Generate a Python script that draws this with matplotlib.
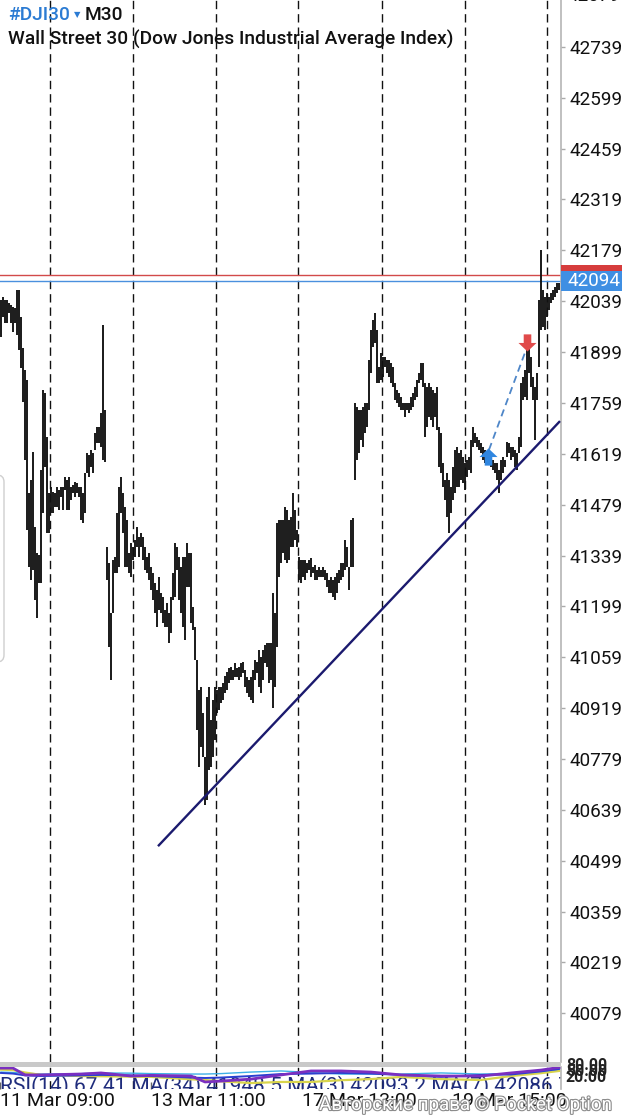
import matplotlib
matplotlib.use("Agg")
import matplotlib.pyplot as plt
from matplotlib.patches import Rectangle, FancyBboxPatch
from matplotlib.path import Path
from matplotlib.transforms import IdentityTransform
import matplotlib.patheffects as pe

plt.rcParams['font.family'] = ['Roboto', 'DejaVu Sans']

# ---------------- data (M30 bars, high / low) ----------------
bar_high = [
    42043, 42051, 42043, 42043, 42034, 42029, 42023, 42020, 42070, 42070,
    41996, 41910, 41850, 41822, 41511, 41547, 41624, 41418, 41346, 41341,
    41574, 41795, 41786, 41665, 41511, 41528, 41514, 41511, 41528, 41519,
    41528, 41528, 41555, 41547, 41555, 41528, 41533, 41541, 41539, 41528,
    41528, 41511, 41566, 41621, 41616, 41630, 41621, 41676, 41693, 41693,
    41731, 41974, 41740, 41363, 41318, 41181, 41327, 41335, 41456, 41528,
    41555, 41511, 41473, 41437, 41346, 41374, 41363, 41382, 41418, 41390,
    41401, 41390, 41363, 41335, 41346, 41307, 41291, 41263, 41244, 41280,
    41236, 41225, 41189, 41208, 41181, 41225, 41291, 41374, 41363, 41335,
    41307, 41335, 41335, 41374, 41346, 41346, 41197, 41142, 41051, 40969,
    40977, 40906, 40784, 40950, 40977, 40886, 40941, 40977, 40969, 40977,
    40977, 40988, 41007, 41018, 41029, 41032, 41024, 41043, 41029, 41032,
    41043, 41046, 41024, 41005, 40996, 41005, 41024, 41051, 41046, 41079,
    41060, 41079, 41093, 41098, 41098, 41098, 41236, 41181, 41429, 41437,
    41437, 41437, 41473, 41464, 41437, 41445, 41511, 41464, 41409, 41335,
    41327, 41327, 41327, 41318, 41327, 41332, 41307, 41313, 41299, 41307,
    41299, 41307, 41299, 41291, 41272, 41280, 41272, 41280, 41291, 41299,
    41318, 41318, 41382, 41363, 41307, 41437, 41442, 41759, 41748, 41740,
    41740, 41748, 41759, 41759, 41877, 41960, 41987, 42007, 41960, 41858,
    41897, 41886, 41886, 41877, 41877, 41869, 41858, 41814, 41795, 41786,
    41775, 41759, 41759, 41759, 41759, 41775, 41786, 41803, 41822, 41842,
    41869, 41869, 41814, 41803, 41814, 41803, 41795, 41786, 41803, 41693,
    41676, 41594, 41547, 41566, 41547, 41528, 41583, 41630, 41638, 41621,
    41630, 41610, 41594, 41602, 41610, 41657, 41693, 41676, 41665, 41657,
    41649, 41638, 41630, 41621, 41616, 41610, 41602, 41594, 41594, 41574,
    41602, 41610, 41602, 41652, 41649, 41638, 41638, 41630, 41621, 41665,
    41814, 41831, 41850, 41905, 41913, 41886, 41831, 41803, 41842, 42043,
    42180, 42070, 42051, 42062, 42051, 42062, 42070, 42078, 42089, 42089,
]
bar_low = [
    41941, 41996, 41979, 41979, 42007, 41979, 41954, 41979, 41946, 41905,
    41855, 41761, 41602, 41409, 41307, 41272, 41299, 41217, 41167, 41263,
    41263, 41456, 41583, 41401, 41401, 41456, 41456, 41473, 41473, 41464,
    41500, 41464, 41519, 41464, 41464, 41492, 41511, 41500, 41511, 41500,
    41437, 41429, 41456, 41566, 41555, 41583, 41566, 41630, 41649, 41649,
    41638, 41602, 41597, 41272, 41087, 40996, 41181, 41291, 41291, 41307,
    41456, 41401, 41307, 41307, 41291, 41280, 41327, 41335, 41363, 41335,
    41363, 41327, 41299, 41291, 41272, 41244, 41217, 41181, 41142, 41189,
    41181, 41153, 41142, 41142, 41098, 41126, 41217, 41225, 41299, 41217,
    41181, 41142, 41107, 41252, 41252, 41153, 41134, 41051, 40859, 40757,
    40812, 40784, 40652, 40666, 40749, 40757, 40784, 40831, 40906, 40914,
    40933, 40941, 40961, 40969, 40988, 40996, 40996, 41005, 41005, 40996,
    41005, 41016, 40977, 40961, 40950, 40941, 40933, 40996, 41016, 40977,
    40961, 40996, 41043, 41032, 40988, 40996, 40919, 40977, 41087, 41280,
    41318, 41346, 41327, 41318, 41327, 41363, 41363, 41382, 41363, 41272,
    41263, 41280, 41272, 41291, 41299, 41280, 41291, 41272, 41272, 41280,
    41280, 41280, 41272, 41252, 41236, 41236, 41225, 41217, 41236, 41263,
    41272, 41280, 41299, 41307, 41244, 41307, 41307, 41547, 41602, 41621,
    41657, 41638, 41676, 41693, 41740, 41842, 41913, 41924, 41814, 41814,
    41822, 41831, 41858, 41842, 41831, 41814, 41803, 41767, 41759, 41748,
    41740, 41740, 41720, 41740, 41731, 41740, 41748, 41767, 41775, 41814,
    41822, 41803, 41665, 41693, 41720, 41712, 41693, 41720, 41685, 41583,
    41566, 41528, 41492, 41445, 41401, 41456, 41492, 41511, 41528, 41528,
    41547, 41539, 41519, 41555, 41574, 41566, 41638, 41649, 41638, 41630,
    41621, 41602, 41594, 41602, 41588, 41583, 41574, 41566, 41547, 41511,
    41547, 41566, 41583, 41610, 41621, 41602, 41610, 41583, 41574, 41621,
    41638, 41767, 41775, 41767, 41842, 41803, 41767, 41657, 41767, 41858,
    41960, 41968, 41960, 41996, 42015, 42034, 42043, 42051, 42062, 42070,
]
bar_index = list(range(len(bar_high)))

price_ticks = [40079, 40219, 40359, 40499, 40639, 40779, 40919, 41059, 41199,
               41339, 41479, 41619, 41759, 41899, 42039, 42179, 42319, 42459,
               42599, 42739]
top_partial_tick = 42879
bid_price = 42094
ask_price = 42110
day_separators = [24.5, 66.2, 107.5, 148.7, 190.4, 232.0, 272.9]
trend_x = [78.5, 279.5]
trend_y = [40539, 41709]
signal_up = (243.5, 41610)
signal_down = (263.0, 41927)

date_positions = [-0.5, 75.0, 150.5, 225.5]
date_labels = ['11 Mar 09:00', '13 Mar 11:00', '17 Mar 13:00', '19 Mar 15:00']

rsi_x = [0, 6, 12, 20, 40, 50, 65, 75, 95, 102, 110, 125, 140, 155, 170,
         185, 200, 220, 240, 255, 270, 279]
rsi_purple = [95, 95, 64, 64, 68, 73, 59, 62, 59, 32, 36, 45, 64, 82, 82,
              77, 64, 59, 59, 73, 86, 98]
rsi_yellow = [88, 86, 75, 64, 59, 58, 56, 55, 44, 41, 35, 27, 32, 32, 40,
              45, 55, 45, 41, 59, 72, 82]
rsi_blue = [73, 70, 62, 59, 62, 64, 62, 59, 52, 50, 52, 59, 68, 70, 73,
            70, 64, 55, 64, 66, 80, 91]
rsi_cyan = [77, 75, 72, 68, 70, 73, 72, 70, 68, 68, 70, 77, 82, 75, 68,
            68, 68, 73, 68, 70, 78, 86]
rsi_text = 'RSI(14) 67.41 MA(34) 41948.5 MA(3) 42093.2 MA(7) 42086.7'
rsi_levels = ['80.00', '50.00', '20.00']

# ---------------- figure ----------------
W, H = 622, 1117
fig = plt.figure(figsize=(W / 100, H / 100), dpi=100)
fig.patch.set_facecolor('white')

def fx(px):
    return px / W

def fy(py):
    return 1 - py / H

plot_right = 561
ax = fig.add_axes([0, fy(1062), fx(plot_right), 1062 / H])
ax.set_xlim(-0.5, 280)
ax.set_ylim(39945, 42868)
ax.set_facecolor('white')

for s in ['top', 'left', 'bottom']:
    ax.spines[s].set_visible(False)
ax.spines['right'].set_color('#b5b5b5')
ax.spines['right'].set_linewidth(1.2)
ax.set_xticks([])
ax.yaxis.tick_right()
ax.set_yticks(price_ticks)
ax.set_yticklabels([str(t) for t in price_ticks])
ax.tick_params(axis='y', labelsize=13.6, colors='#111111', length=3,
               width=1, pad=3)
ax.tick_params(axis='y', color='#aaaaaa')
ax.text(1.0 + 6 / plot_right, top_partial_tick, str(top_partial_tick),
        transform=ax.get_yaxis_transform(), fontsize=13.6, color='#111111',
        va='center', ha='left', clip_on=False)

# day separators
for d in day_separators:
    ax.axvline(d, color='#111111', lw=1.0, ls=(0, (6, 3.6)), zorder=1)

# bars
ax.vlines(bar_index, bar_low, bar_high, color='#111111', lw=1.35, zorder=3)

# bid / ask lines
ax.axhline(ask_price, color='#d24a4a', lw=1.0, zorder=2)
ax.axhline(bid_price, color='#4a90de', lw=1.0, zorder=2)
ytr = ax.get_yaxis_transform()
box_w = (W - plot_right) / plot_right
half = 10 * (42868 - 39945) / 1062
ax.add_patch(Rectangle((1.0, ask_price - half), box_w, 2 * half,
                       transform=ytr, facecolor='#d63c3c', edgecolor='none',
                       clip_on=False, zorder=5))
ax.add_patch(Rectangle((1.0, bid_price - half), box_w, 2 * half,
                       transform=ytr, facecolor='#3f8fe3', edgecolor='none',
                       clip_on=False, zorder=6))
ax.text(1.0 + 6 / plot_right, bid_price, str(bid_price), transform=ytr,
        fontsize=13.6, color='white', va='center', ha='left', clip_on=False,
        zorder=7)

# trend line
ax.plot(trend_x, trend_y, color='#1b1a6e', lw=1.7, zorder=4,
        solid_capstyle='butt')

# signal arrows
up_arrow = Path([(0, 1), (1, 0.05), (0.42, 0.05), (0.42, -0.9),
                 (-0.42, -0.9), (-0.42, 0.05), (-1, 0.05), (0, 1)])
down_arrow = Path([(x, -y) for x, y in up_arrow.vertices])
ax.plot([signal_up[0] + 0.5, signal_down[0] - 0.5],
        [signal_up[1] + 20, signal_down[1] - 22], color='#4e86c8', lw=1.3,
        ls=(0, (4, 2.6)), zorder=5)
ax.plot(*signal_up, marker=up_arrow, ms=13, color='#2f86e0', zorder=6,
        markeredgewidth=0)
ax.plot(*signal_down, marker=down_arrow, ms=13, color='#e04a4a', zorder=6,
        markeredgewidth=0)

# ---------------- indicator panel ----------------
fig.add_artist(Rectangle((0, fy(1067)), fx(plot_right), 5 / H,
                         transform=fig.transFigure, facecolor='#c9c9c9',
                         edgecolor='none'))
axr = fig.add_axes([0, fy(1089), fx(plot_right), 22 / H])
axr.set_xlim(-0.5, 280)
axr.set_ylim(0, 100)
axr.set_facecolor('white')
for s in ['top', 'left', 'bottom']:
    axr.spines[s].set_visible(False)
axr.spines['right'].set_color('#b5b5b5')
axr.spines['right'].set_linewidth(1.2)
axr.set_yticks([])
for d in day_separators:
    axr.axvline(d, color='#111111', lw=1.0, ls=(0, (6, 3.6)), zorder=1)
axr.text(0.0, -0.14, rsi_text, transform=axr.transAxes, fontsize=15,
         color='#1f2c7c', ha='left', va='baseline', clip_on=True, zorder=2)
axr.plot(rsi_x, rsi_cyan, color='#3fb0e6', lw=1.0, zorder=3)
axr.plot(rsi_x, rsi_yellow, color='#d8d44c', lw=1.6, zorder=3)
axr.plot(rsi_x, rsi_blue, color='#2b3fd0', lw=1.4, zorder=4)
axr.plot(rsi_x, rsi_purple, color='#7a2fc0', lw=2.0, zorder=5)
axr.set_xticks(date_positions)
axr.set_xticklabels(date_labels, ha='left')
axr.tick_params(axis='x', direction='in', length=5, width=1,
                color='#666666', labelsize=14, labelcolor='#111111', pad=2)
for i, lab in enumerate(rsi_levels):
    fig.text(fx(566), fy(1066 + 5.5 * i), lab, fontsize=11.5,
             fontweight='bold', color='#222222', va='center', ha='left')

# ---------------- header texts ----------------
fig.text(fx(8), fy(15), '#DJI30', fontsize=13.8, fontweight='medium',
         color='#2b7bd3', va='center', ha='left')
fig.text(fx(74), fy(15), '\u25BC', fontsize=6, color='#2b7bd3',
         va='center', ha='left', family='DejaVu Sans')
fig.text(fx(85), fy(15), 'M30', fontsize=13.8, fontweight='medium',
         color='#111111', va='center', ha='left')
fig.text(fx(8), fy(39), 'Wall Street 30 (Dow Jones Industrial Average Index)',
         fontsize=13.8, fontweight='medium', color='#111111', va='center',
         ha='left')

# side panel edge
fig.add_artist(FancyBboxPatch((-40, H - 662), 44, 187,
                              boxstyle='round,pad=0,rounding_size=7',
                              transform=IdentityTransform(),
                              facecolor='none', edgecolor='#cfcfcf', lw=1.0))

# watermark
fig.text(fx(612), fy(1105), 'Авторские права © Pocket Option', fontsize=13.5,
         color='white', ha='right', va='center',
         path_effects=[pe.withStroke(linewidth=1.6, foreground='#8c8c8c')])

fig.savefig('out.png', dpi=100)
